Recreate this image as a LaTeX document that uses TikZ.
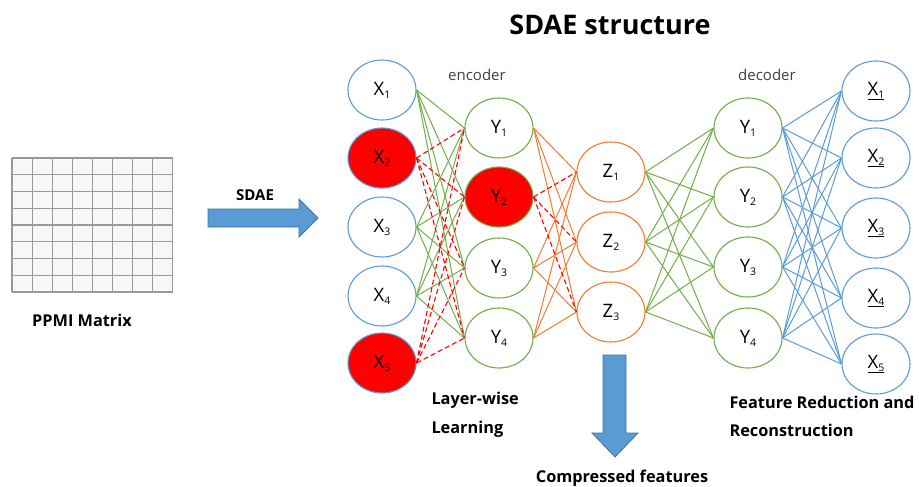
\documentclass[tikz,border=0pt]{standalone}
\usepackage{fontspec}
\setmainfont{Open Sans}
\usetikzlibrary{shapes.geometric}
\definecolor{cblue}{HTML}{5B9BD5}
\definecolor{cgreen}{HTML}{70AD47}
\definecolor{corange}{HTML}{ED7D31}
\definecolor{cred}{HTML}{FF0000}
\definecolor{arrowedge}{HTML}{41719C}
\newcommand\nlab[2]{#1\raisebox{-0.3ex}{\fontsize{10.5}{10.5}\selectfont #2}}
\tikzset{
  neuron/.style={ellipse, draw, line width=1.1pt, minimum width=68pt, minimum height=60pt, inner sep=0pt, font=\fontsize{18.5}{18.5}\selectfont},
  xn/.style={neuron, draw=cblue},
  yn/.style={neuron, draw=cgreen},
  zn/.style={neuron, draw=corange},
  hot/.style={fill=cred},
  gline/.style={draw=cgreen, line width=1pt},
  oline/.style={draw=corange, line width=1pt},
  bline/.style={draw=cblue, line width=1pt},
  rdash/.style={draw=cred, line width=1.1pt, dash pattern=on 5pt off 3pt},
  bigarrow/.style={fill=cblue, draw=arrowedge, line width=0.8pt},
  lbl/.style={font=\fontsize{16.3}{16.3}\selectfont\bfseries},
  sublbl/.style={font=\fontsize{15}{15}\selectfont, text=black!75},
}
\begin{document}
\begin{tikzpicture}[x=1pt,y=-1pt]
\useasboundingbox (0,0) rectangle (919,487);
% title
\node[font=\fontsize{27}{27}\selectfont\bfseries] (title) at (610,25) {SDAE structure};
% matrix
\fill[black!3] (12,158) rectangle (173,292);
\foreach \c in {0,...,8} \draw[black!40, line width=1.1pt] (12+\c*20.1,158) -- (12+\c*20.1,292);
\foreach \r in {0,...,8} \draw[black!40, line width=1.1pt] (12,158+\r*16.75) -- (173,158+\r*16.75);
\node[lbl] (ppmi) at (82,320) {PPMI Matrix};
% SDAE arrow
\node[font=\fontsize{15}{15}\selectfont\bfseries] (sdae) at (255,195) {SDAE};
\draw[bigarrow] (208,209) -- (299,209) -- (299,199) -- (318,218) -- (299,237) -- (299,227) -- (208,227) -- cycle;
% input layer
\node[xn] (x1) at (382,90) {\nlab{X}{1}};
\node[xn,hot] (x2) at (382,158) {\nlab{X}{2}};
\node[xn] (x3) at (382,227) {\nlab{X}{3}};
\node[xn] (x4) at (382,296) {\nlab{X}{4}};
\node[xn,hot] (x5) at (382,363) {\nlab{X}{5}};
% encoder hidden
\node[yn] (y1) at (499,128) {\nlab{Y}{1}};
\node[yn,hot] (y2) at (499,197) {\nlab{Y}{2}};
\node[yn] (y3) at (499,268) {\nlab{Y}{3}};
\node[yn] (y4) at (499,338) {\nlab{Y}{4}};
% code layer
\node[zn] (z1) at (611,172) {\nlab{Z}{1}};
\node[zn] (z2) at (611,242) {\nlab{Z}{2}};
\node[zn] (z3) at (611,312) {\nlab{Z}{3}};
% decoder hidden
\node[yn] (d1) at (748,128) {\nlab{Y}{1}};
\node[yn] (d2) at (748,197) {\nlab{Y}{2}};
\node[yn] (d3) at (748,267) {\nlab{Y}{3}};
\node[yn] (d4) at (748,338) {\nlab{Y}{4}};
% output
\node[xn] (o1) at (876,91) {\underline{\nlab{X}{1}}};
\node[xn] (o2) at (876,158) {\underline{\nlab{X}{2}}};
\node[xn] (o3) at (876,228) {\underline{\nlab{X}{3}}};
\node[xn] (o4) at (876,298) {\underline{\nlab{X}{4}}};
\node[xn] (o5) at (876,364) {\underline{\nlab{X}{5}}};
% connections
\foreach \i in {1,3,4} \foreach \j in {1,...,4} \draw[gline] (x\i.east) -- (y\j.west);
\foreach \i in {2,5} \foreach \j in {1,...,4} \draw[rdash] (x\i.east) -- (y\j.west);
\foreach \i in {1,3,4} \foreach \j in {1,...,3} \draw[oline] (y\i.east) -- (z\j.west);
\foreach \j in {1,...,3} \draw[rdash] (y2.east) -- (z\j.west);
\foreach \i in {1,...,3} \foreach \j in {1,...,4} \draw[gline] (z\i.east) -- (d\j.west);
\foreach \i in {1,...,4} \foreach \j in {1,...,5} \draw[bline] (d\i.east) -- (o\j.west);
% labels
\node[sublbl] (enc) at (477,75) {encoder};
\node[sublbl] (dec) at (767,75) {decoder};
\node[lbl, anchor=west] (lw1) at (428,400) {Layer-wise};
\node[lbl, anchor=west] (lw2) at (428,429) {Learning};
\node[lbl, anchor=west] (fr1) at (726,402) {Feature Reduction and};
\node[lbl, anchor=west] (fr2) at (726,430) {Reconstruction};
% compressed arrow
\draw[bigarrow] (603,355) -- (626,355) -- (626,433) -- (638,433) -- (615,457) -- (592,433) -- (603,433) -- cycle;
\node[lbl] (comp) at (622,478) {Compressed features};
\end{tikzpicture}
\end{document}
